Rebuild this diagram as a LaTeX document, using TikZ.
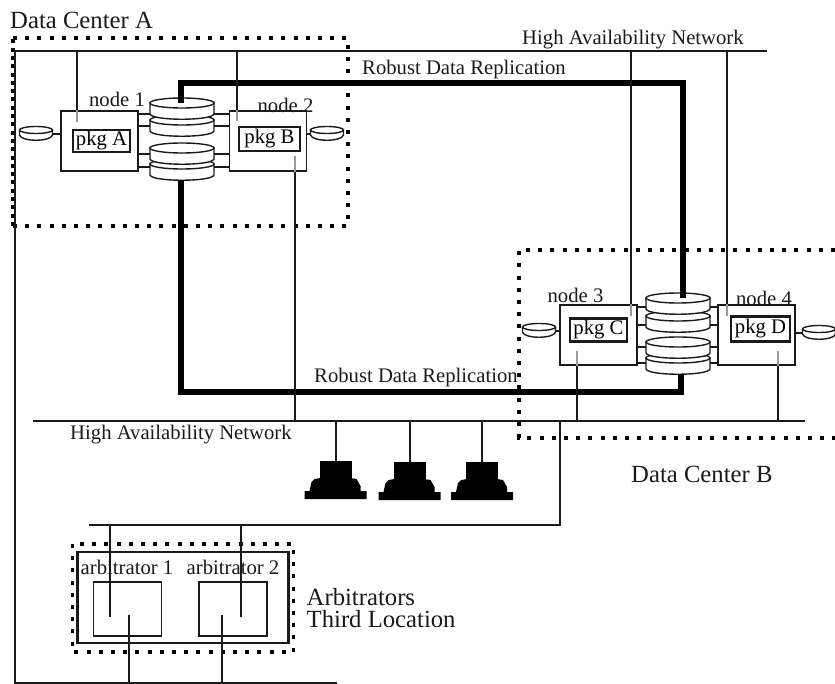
\documentclass[tikz,border=0pt]{standalone}
\usepackage{fontspec}
\setmainfont{Liberation Serif}
\usetikzlibrary{calc,positioning}
\definecolor{tinta}{HTML}{1A1A1A}
\definecolor{tenue}{HTML}{9A9A9A}
\tikzset{
  caja/.style={rectangle,draw=tinta,fill=white,line width=1.4pt,inner sep=0pt},
  nodocaja/.style={caja,minimum width=77pt,minimum height=60pt},
  pkgcaja/.style={caja,line width=2.4pt,font=\chico},
  etiq/.style={font=\chico,text=tinta,inner sep=0pt},
  etiqgrande/.style={font=\grande,text=tinta,inner sep=0pt},
  red/.style={draw=tinta,line width=1.7pt},
  hilo/.style={draw=tinta,line width=2pt},
  hilotenue/.style={draw=tenue,line width=1.4pt},
  enlace/.style={draw=tinta,line width=1.4pt},
  replica/.style={draw=black,line width=6pt},
  puntos/.style={draw=black,line width=3.2pt,dash pattern=on 4pt off 8.2pt},
  puntosizq/.style={draw=black,line width=3.2pt,dash pattern=on 4pt off 4.3pt},
  disco/.pic={
    \draw[tinta,fill=white,line width=1.4pt] (-32,-6) -- (-32,5) .. controls (-30,12) and (30,12) .. (32,5) -- (32,-6) -- cycle;
    \draw[tinta,fill=white,line width=1.4pt] (0,-6) ellipse (32 and 5);
    \coordinate (-arriba) at (0,-6);
    \coordinate (-abajo) at (0,10);
    \coordinate (-izq) at (-32,0);
    \coordinate (-der) at (32,0);
  },
  discochico/.pic={
    \draw[tinta,fill=white,line width=1.4pt] (-16.5,-4) -- (-16.5,1) .. controls (-15,8) and (15,8) .. (16.5,1) -- (16.5,-4) -- cycle;
    \draw[tinta,fill=white,line width=1.4pt] (0,-4) ellipse (16.5 and 3.5);
    \coordinate (-izq) at (-16.5,0);
    \coordinate (-der) at (16.5,0);
  },
  terminal/.pic={
    \node[rectangle,fill=black,inner sep=0pt,minimum width=32pt,minimum height=22pt] (-mon) at (0,0) {};
    \fill[black] (-24,10) -- (-21,7) -- (-15,6) -- (15,6) -- (21,7) -- (25,14) -- (25,19)
      -- (31,19) -- (31,27) -- (-31,27) -- (-31,19) -- (-26,19) -- cycle;
  },
}
\newcommand{\chico}{\fontsize{20.7}{22}\selectfont}
\newcommand{\grande}{\fontsize{24.7}{22}\selectfont}

\begin{document}
\begin{tikzpicture}[x=1pt,y=-1pt]
\useasboundingbox (0,0) rectangle (835,684);
% puntos
\draw[puntos] (13,38) -- (348,38) -- (348,226) -- (13,226);
\draw[puntosizq] (13,226) -- (13,38);
\draw[puntos] (835,250) -- (519,250) -- (519,438) -- (835,438);
\draw[puntos] (72.5,544) rectangle (293.5,652);
% redes
\coordinate (hatop1) at (15,51);
\coordinate (hatop2) at (767,51);
\coordinate (habot1) at (33,421);
\coordinate (habot2) at (805,421);
\coordinate (tercera1) at (89,525);
\coordinate (tercera2) at (560,525);
\coordinate (baja) at (337,683);
\draw[red] (hatop2) -- (hatop1) -- (hatop1 |- baja) -- (baja);
\draw[red] (habot1) -- (habot2);
\draw[red] (tercera1) -- (tercera2) -- (tercera2 |- habot1);
% replica
\coordinate (rep1) at (181,83);
\coordinate (rep2) at (683,83);
\coordinate (rep3) at (181,392);
\coordinate (rep4) at (681,392);
% cajas
\node[nodocaja] (n1) at (99.5,141) {};
\node[nodocaja] (n2) at (268,141) {};
\node[nodocaja] (n3) at (598.5,335) {};
\node[nodocaja] (n4) at (756.5,335) {};
\node[pkgcaja,minimum width=57pt,minimum height=22pt] (pa) at (101.5,141) {pkg A};
\node[pkgcaja,minimum width=61pt,minimum height=24pt] (pb) at (269.5,139) {pkg B};
\node[pkgcaja,minimum width=57pt,minimum height=23pt] (pc) at (598.5,330) {pkg C};
\node[pkgcaja,minimum width=59pt,minimum height=25pt] (pd) at (760.5,329) {pkg D};
\node[etiq] (ln1) at (117,99) {node 1};
\node[etiq] (ln2) at (285.5,105) {node 2};
\node[etiq] (ln3) at (575.5,295) {node 3};
\node[etiq] (ln4) at (764,298) {node 4};
% discos
\pic (d4) at (182,170) {disco};
\pic (d3) at (182,154) {disco};
\pic (d2) at (182,126) {disco};
\pic (d1) at (182,109) {disco};
\pic (d8) at (678,364) {disco};
\pic (d7) at (678,348) {disco};
\pic (d6) at (678,322) {disco};
\pic (d5) at (678,304) {disco};
\foreach \y in {114,126,154,167} {
  \draw[enlace] (n1.east |- 0,\y) -- (d1-izq |- 0,\y);
  \draw[enlace] (d1-der |- 0,\y) -- (n2.west |- 0,\y);
}
\foreach \y in {307,325,347,363} {
  \draw[enlace] (n3.east |- 0,\y) -- (d5-izq |- 0,\y);
  \draw[enlace] (d5-der |- 0,\y) -- (n4.west |- 0,\y);
}
\draw[replica] (d1-arriba -| rep1) -- (rep1) -- (rep2) -- (d5-arriba -| rep2);
\draw[replica] (d4-abajo -| rep3) -- (rep3) -- (rep4) -- (d8-abajo -| rep4);
% discos chicos
\pic (e1) at (36,134) {discochico};
\pic (e2) at (327,134) {discochico};
\pic (e3) at (539,331) {discochico};
\pic (e4) at (819,333) {discochico};
\draw[enlace] (e1-der) -- (e1-der -| n1.west);
\draw[enlace] (e2-izq) -- (e2-izq -| n2.east);
\draw[enlace] (e3-der) -- (e3-der -| n3.west);
\draw[enlace] (e4-izq) -- (e4-izq -| n4.east);
% hilos
\coordinate (s1) at (77,122);
\coordinate (s2) at (237,121);
\coordinate (s3) at (295,156);
\coordinate (s4) at (631,316);
\coordinate (s5) at (727,316);
\coordinate (s6) at (577,351);
\coordinate (s7) at (778,351);
\draw[hilo] (s1 |- hatop1) -- (s1 |- n1.north);
\draw[hilotenue] (s1 |- n1.north) -- (s1);
\draw[hilo] (s2 |- hatop1) -- (s2 |- n2.north);
\draw[hilotenue] (s2 |- n2.north) -- (s2);
\draw[hilo] (s3 |- habot1) -- (s3 |- n2.south);
\draw[hilotenue] (s3 |- n2.south) -- (s3);
\draw[hilo] (s4 |- hatop1) -- (s4 |- n3.north);
\draw[hilotenue] (s4 |- n3.north) -- (s4);
\draw[hilo] (s5 |- hatop1) -- (s5 |- n4.north);
\draw[hilotenue] (s5 |- n4.north) -- (s5);
\draw[hilo] (s6 |- habot1) -- (s6 |- n3.south);
\draw[hilotenue] (s6 |- n3.south) -- (s6);
\draw[hilo] (s7 |- habot1) -- (s7 |- n4.south);
\draw[hilotenue] (s7 |- n4.south) -- (s7);
% terminales
\pic (t1) at (335.5,472) {terminal};
\pic (t2) at (409.5,473) {terminal};
\pic (t3) at (482,473) {terminal};
\draw[hilo] (t1-mon.north) -- (t1-mon.north |- habot1);
\draw[hilo] (t2-mon.north) -- (t2-mon.north |- habot1);
\draw[hilo] (t3-mon.north) -- (t3-mon.north |- habot1);
% arbitros
\node[caja,line width=2.4pt,minimum width=211pt,minimum height=91pt] (arbs) at (183,597.5) {};
\node[caja,line width=1.8pt,minimum width=68pt,minimum height=54pt] (a1) at (127.5,609) {};
\node[caja,line width=1.8pt,minimum width=68pt,minimum height=54pt] (a2) at (233,609) {};
\node[etiq] (la1) at (127,567) {arbitrator 1};
\node[etiq] (la2) at (233,567) {arbitrator 2};
\coordinate (w1) at (110,617);
\coordinate (w2) at (241,617);
\coordinate (w3) at (128.5,615);
\coordinate (w4) at (222,615);
\draw[hilo] (w1 |- tercera1) -- (w1);
\draw[hilo] (w2 |- tercera1) -- (w2);
\draw[hilo] (w3) -- (w3 |- baja);
\draw[hilo] (w4) -- (w4 |- baja);
% textos
\node[etiqgrande,anchor=west] (dca) at (10,20) {Data Center A};
\node[etiqgrande,anchor=west] (dcb) at (631,474) {Data Center B};
\node[etiq,anchor=west] (hat) at (522,40) {High Availability Network};
\node[etiq,anchor=west] (hab) at (70,435) {High Availability Network};
\node[etiq,anchor=west] (rep) at (362,70) {Robust Data Replication};
\node[etiq,anchor=west] (repb) at (314,378) {Robust Data Replication};
\node[etiqgrande,anchor=west,align=left] (arb) at (306.5,608) {Arbitrators\\Third Location};
\end{tikzpicture}
\end{document}
